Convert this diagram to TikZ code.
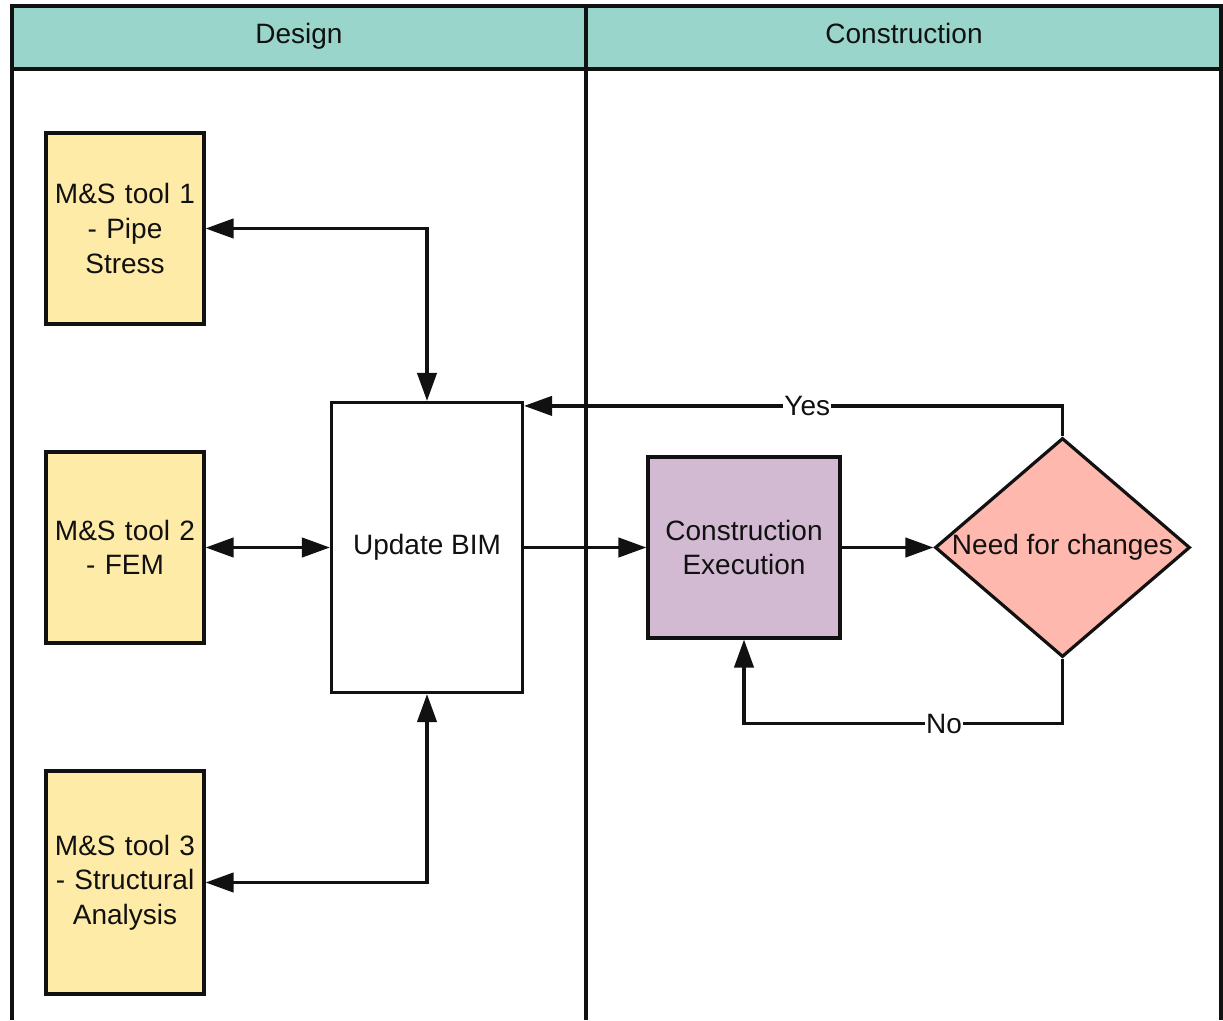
\documentclass[tikz,border=0pt]{standalone}
\usepackage{fontspec}
\setmainfont{Liberation Sans}
\usetikzlibrary{arrows.meta,shapes.geometric,calc}

\definecolor{lanehead}{HTML}{9AD5CB}
\definecolor{toolfill}{HTML}{FFEBA8}
\definecolor{execfill}{HTML}{D2BAD3}
\definecolor{decfill}{HTML}{FFB8AE}
\definecolor{ink}{HTML}{111111}

\tikzset{
  lbl/.style={font=\fontsize{21}{25.9}\selectfont, text=ink},
  boxbase/.style={draw=ink, line width=2.4pt, inner sep=4pt, align=center,
    font=\fontsize{21}{25.9}\selectfont, text=ink},
  toolbox/.style={boxbase, fill=toolfill, minimum width=118.5pt, minimum height=143.25pt, text width=108pt},
  bimbox/.style={boxbase, fill=white, minimum width=143.25pt, minimum height=217.5pt},
  execbox/.style={boxbase, fill=execfill, minimum width=144pt, minimum height=135.75pt},
  decbox/.style={diamond, draw=ink, line width=2.4pt, fill=decfill, inner sep=0pt,
    minimum width=191.25pt, minimum height=164.25pt},
  flow/.style={draw=ink, line width=2.4pt, -{Triangle[length=21pt,width=14.5pt]}},
  flow2/.style={draw=ink, line width=2.4pt, {Triangle[length=21pt,width=14.5pt]}-{Triangle[length=21pt,width=14.5pt]}},
  edgelbl/.style={lbl, fill=white, inner sep=1pt},
  lane/.style={draw=ink, line width=2.4pt}
}

\begin{document}
\begin{tikzpicture}[x=0.75pt, y=-0.75pt]
  \useasboundingbox (0,0) rectangle (1223,1020);
  \fill[white] (0,0) rectangle (1223,1020);

  % swimlane headers and frame
  \fill[lanehead] (12,6) rectangle (1221,69);
  \draw[lane] (12,1020) -- (12,6) -- (1221,6) -- (1221,1020);
  \draw[lane] (12,69) -- (1221,69);
  \draw[lane] (586,6) -- (586,1020);
  \node[lbl, anchor=base] (hdesign) at (299,44) {Design};
  \node[lbl, anchor=base] (hconstr) at (904,44) {Construction};

  % design lane
  \node[toolbox] (tool1) at (125,228.5) {M\&S tool 1\\- Pipe\\Stress};
  \node[toolbox] (tool2) at (125,547.5) {M\&S tool 2\\- FEM};
  \node[toolbox, minimum height=167.25pt] (tool3) at (125,882.5) {M\&S tool 3\\- Structural\\Analysis};
  \node[bimbox] (bim) at (427,547.5) {Update BIM};

  % construction lane
  \node[execbox] (exec) at (744,547.5) {Construction\\Execution};
  \node[decbox] (dec) at (1062.5,547.5) {};
  \node[lbl] (dectext) at (dec.center) {Need for changes};

  % connectors
  \draw[flow2] (tool1.east) -| (bim.north);
  \draw[flow2] (tool2.east) -- (bim.west);
  \draw[flow2] (bim.south) |- (tool3.east);
  \draw[flow] (bim.east) -- (exec.west);
  \draw[flow] (exec.east) -- (dec.west);
  \coordinate (yesend) at ($(bim.north east)+(0,5)$);
  \draw[flow] (dec.north) |- node[edgelbl, pos=0.737] {Yes} (yesend);
  \coordinate (nocorner) at ($(dec.south)+(0,65)$);
  \draw[flow] (dec.south) -- (nocorner) -| node[edgelbl, pos=0.186] {No} (exec.south);
\end{tikzpicture}
\end{document}
